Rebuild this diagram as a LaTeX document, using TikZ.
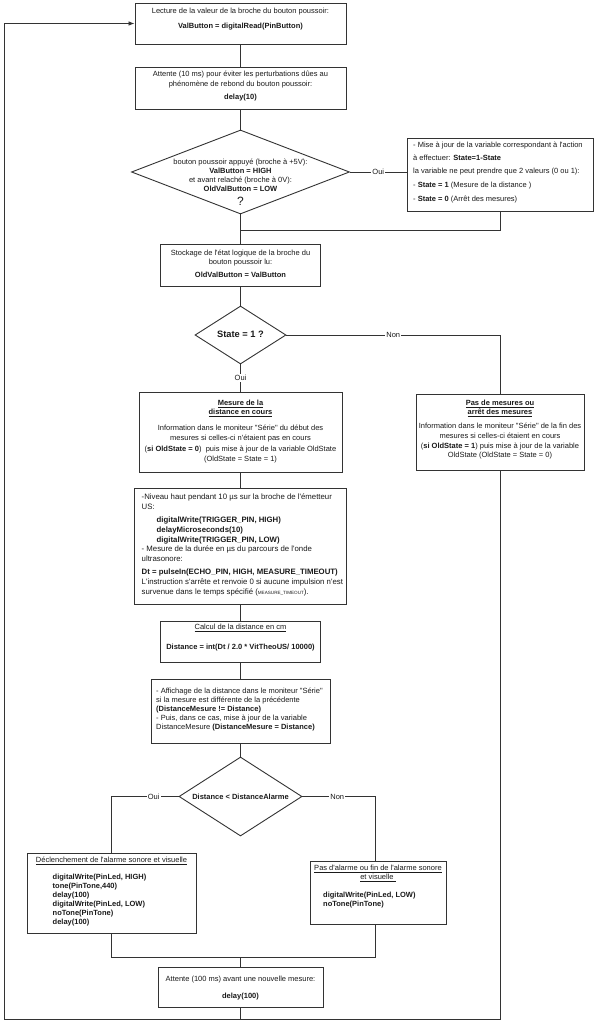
\documentclass[tikz,border=0pt]{standalone}
\usepackage{fontspec}
\setmainfont{Liberation Sans}[Ligatures=TeXOff]
\usetikzlibrary{shapes.geometric,arrows.meta}
\definecolor{linec}{HTML}{333333}
\definecolor{textc}{HTML}{1A1A1A}
\newcommand{\fsn}{\fontsize{7.5}{9}\selectfont}
\newcommand{\fsus}{\fontsize{7.8}{9.8}\selectfont}
\begin{document}
\begin{tikzpicture}[x=1pt,y=-1pt,
  box/.style={draw=linec, line width=0.9pt, rectangle, inner sep=0pt, fill=white},
  dia/.style={draw=linec, line width=0.9pt, diamond, inner sep=0pt, fill=white},
  txt/.style={inner sep=0pt, text=textc, font=\fsn, align=center},
  ltxt/.style={inner sep=0pt, text=textc, font=\fsn, align=left, anchor=west},
  conn/.style={draw=linec, line width=0.8pt},
  lab/.style={inner sep=1pt, fill=white, text=textc, font=\fsn}
]
\fill[white] (0,0) rectangle (594,1024);
\useasboundingbox (0,0) rectangle (594,1024);

% boxes
\node[box, minimum width=211pt, minimum height=41pt] (b1) at (240.5,23.5) {};
\node[box, minimum width=211pt, minimum height=42pt] (b2) at (240.5,88) {};
\node[dia, minimum width=218pt, minimum height=84pt] (d1) at (240.5,172) {};
\node[box, minimum width=186pt, minimum height=73pt] (maj) at (500,174.5) {};
\node[box, minimum width=160pt, minimum height=42pt] (b3) at (240.5,265) {};
\node[dia, minimum width=91pt, minimum height=58pt] (d2) at (240.5,335) {};
\node[box, minimum width=203pt, minimum height=80pt] (b4) at (240.5,432) {};
\node[box, minimum width=168pt, minimum height=76pt] (b5) at (500,432) {};
\node[box, minimum width=212pt, minimum height=116pt] (us) at (240.5,546) {};
\node[box, minimum width=160pt, minimum height=41pt] (calc) at (240.5,641.5) {};
\node[box, minimum width=179pt, minimum height=64pt] (aff) at (240.5,711) {};
\node[dia, minimum width=123pt, minimum height=79pt] (d3) at (240.5,796.5) {};
\node[box, minimum width=169pt, minimum height=80pt] (b8) at (111.5,893) {};
\node[box, minimum width=136pt, minimum height=63pt] (b9) at (378,892.5) {};
\node[box, minimum width=165pt, minimum height=40pt] (att) at (240.5,987) {};

% coordinates
\coordinate (m1) at (240.5,230);
\coordinate (jo) at (111.5,796.5);
\coordinate (jn) at (375,796.5);
\coordinate (m2) at (240.5,957);
\coordinate (bot) at (240.5,1019);
\coordinate (bl) at (4,1019);

% texts
\node[txt] at (240.5,19.5) {Lecture de la valeur de la broche du bouton poussoir:\\[6pt]\textbf{ValButton = digitalRead(PinButton)}};
\node[txt] at (240.5,86.5) {Attente (10 ms) pour éviter les perturbations dûes au\\[1pt]phénomène de rebond du bouton poussoir:\\[4pt]\textbf{delay(10)}};
\node[txt] at (240.5,175.5) {bouton poussoir appuyé (broche à +5V):\\\textbf{ValButton = HIGH}\\et avant relaché (broche à 0V):\\\textbf{OldValButton = LOW}};
\node[txt, font=\fontsize{12}{14}\selectfont] at (240.5,201) {?};
\node[ltxt] at (413,172.5) {- Mise à jour de la variable correspondant à l'action\\[4pt]à effectuer: \textbf{State=1-State}\\[4pt]la variable ne peut prendre que 2 valeurs (0 ou 1):\\[5.5pt]- \textbf{State = 1} (Mesure de la distance )\\[4.5pt]- \textbf{State = 0} (Arrêt des mesures)};
\node[txt] at (240.5,264) {Stockage de l'état logique de la broche du\\bouton poussoir lu:\\[4pt]\textbf{OldValButton = ValButton}};
\node[txt, font=\fontsize{9.3}{11}\selectfont\bfseries] at (240.5,334.5) {State = 1 ?};
\node[txt] at (240.5,432) {\underline{\textbf{Mesure de la}}\\\underline{\textbf{distance en cours}}\\[7pt]Information dans le moniteur "Série" du début des\\[1pt]mesures si celles-ci n'étaient pas en cours\\[2pt](\textbf{si OldState = 0})\ \ puis mise à jour de la variable OldState\\[1pt](OldState = State = 1)};
\node[txt] at (500,430) {\underline{\textbf{Pas de mesures ou}}\\\underline{\textbf{arrêt des mesures}}\\[5pt]Information dans le moniteur "Série" de la fin des\\[1pt]mesures si celles-ci étaient en cours\\[1pt](\textbf{si OldState = 1}) puis mise à jour de la variable\\OldState (OldState = State = 0)};
\node[ltxt, font=\fsus] at (141.5,545) {-Niveau haut pendant 10 µs sur la broche de l'émetteur\\US:\\[3.2pt]\hspace*{15pt}\textbf{digitalWrite(TRIGGER\_PIN, HIGH)}\\\hspace*{15pt}\textbf{delayMicroseconds(10)}\\\hspace*{15pt}\textbf{digitalWrite(TRIGGER\_PIN, LOW)}\\- Mesure de la durée en µs du parcours de l'onde\\ultrasonore:\\[3.2pt]\textbf{Dt = pulseIn(ECHO\_PIN, HIGH, MEASURE\_TIMEOUT)}\\L'instruction s'arrête et renvoie 0 si aucune impulsion n'est\\survenue dans le temps spécifié ({\fontsize{4.6}{5}\selectfont MEASURE\_TIMEOUT}).};
\node[txt] at (240.5,638) {\underline{Calcul de la distance en cm}\\[11pt]\textbf{Distance = int(Dt / 2.0 * VitTheoUS/ 10000)}};
\node[ltxt] at (156,710) {- Affichage de la distance dans le moniteur "Série"\\si la mesure est différente de la précédente\\\textbf{(DistanceMesure != Distance)}\\- Puis, dans ce cas, mise à jour de la variable\\DistanceMesure \textbf{(DistanceMesure = Distance)}};
\node[txt, font=\fsn\bfseries] at (240.5,796.5) {Distance < DistanceAlarme};
\node[txt] at (111.5,861) {\underline{Déclenchement de l'alarme sonore et visuelle}};
\node[ltxt, font=\fsn\bfseries] at (52.5,900) {digitalWrite(PinLed, HIGH)\\tone(PinTone,440)\\delay(100)\\digitalWrite(PinLed, LOW)\\noTone(PinTone)\\delay(100)};
\node[txt] at (378,873.5) {\underline{Pas d'alarme ou fin de l'alarme sonore}\\\underline{et visuelle\ }};
\node[ltxt, font=\fsn\bfseries] at (323,900.5) {digitalWrite(PinLed, LOW)\\noTone(PinTone)};
\node[txt] at (240.5,988.5) {Attente (100 ms) avant une nouvelle mesure:\\[8pt]\textbf{delay(100)}};

% connectors
\draw[conn] (b1.south) -- (b2.north);
\draw[conn] (b2.south) -- (d1.north);
\draw[conn] (d1.east) -- node[lab]{Oui} (d1.east -| maj.west);
\draw[conn] (maj.south) |- (m1);
\draw[conn] (d1.south) -- (b3.north);
\draw[conn] (b3.south) -- (d2.north);
\draw[conn] (d2.east) -| node[lab, pos=0.25]{Non} (b5.north);
\draw[conn] (d2.south) -- node[lab]{Oui} (b4.north);
\draw[conn] (b4.south) -- (us.north);
\draw[conn] (us.south) -- (calc.north);
\draw[conn] (calc.south) -- (aff.north);
\draw[conn] (aff.south) -- (d3.north);
\draw[conn] (d3.west) -- node[lab, pos=0.37]{Oui} (jo) -- (b8.north);
\draw[conn] (d3.east) -- node[lab, pos=0.48]{Non} (jn) -- (jn |- b9.north);
\draw[conn] (b8.south) |- (jn |- m2) -- (jn |- b9.south);
\draw[conn] (m2) -- (att.north);
\draw[conn] (att.south) -- (bot);
\draw[conn, -{Latex[length=6pt, width=4.5pt]}] (b5.south) |- (bl) |- (b1.west);
\end{tikzpicture}
\end{document}
